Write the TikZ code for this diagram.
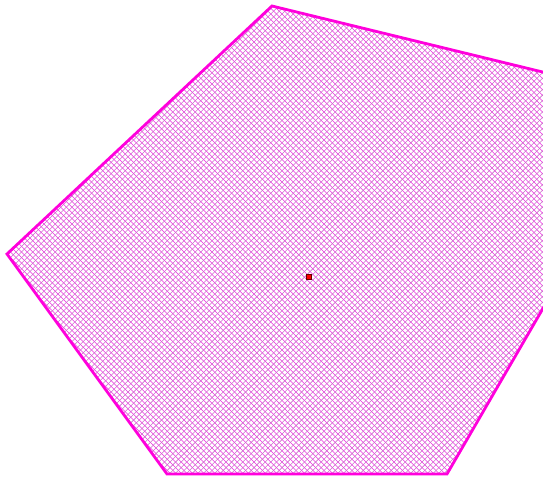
\documentclass[tikz,border=0pt]{standalone}
\definecolor{mag}{RGB}{255,0,220}
\definecolor{hatchA}{RGB}{240,40,230}
\definecolor{hatchB}{RGB}{200,110,200}
\begin{document}
\begin{tikzpicture}[x=1pt,y=-1pt,
  edge/.style={draw=mag,line width=2.8pt,line join=miter},
  hatcha/.style={draw=hatchA,line width=0.55pt},
  hatchb/.style={draw=hatchB,line width=0.55pt},
  centre/.style={draw=red!40!black,fill=red,minimum size=5.5pt,inner sep=0pt,line width=0.6pt}]
\useasboundingbox (0,0) rectangle (543,477);
\clip (0,0) rectangle (543,477);
\begin{scope}
\clip (272,6) -- (600,86) -- (600,210) -- (447,474) -- (167,474) -- (7,254) -- cycle;
\foreach \i in {-600,-594.4,...,1200}{
  \draw[hatcha] (\i,0) -- (\i+600,600);
  \draw[hatchb] (\i,0) -- (\i-600,600);
}
\end{scope}
\draw[edge] (272,6) -- (600,86) -- (600,210) -- (447,474) -- (167,474) -- (7,254) -- cycle;
\node[centre] (c) at (309,277) {};
\end{tikzpicture}
\end{document}
